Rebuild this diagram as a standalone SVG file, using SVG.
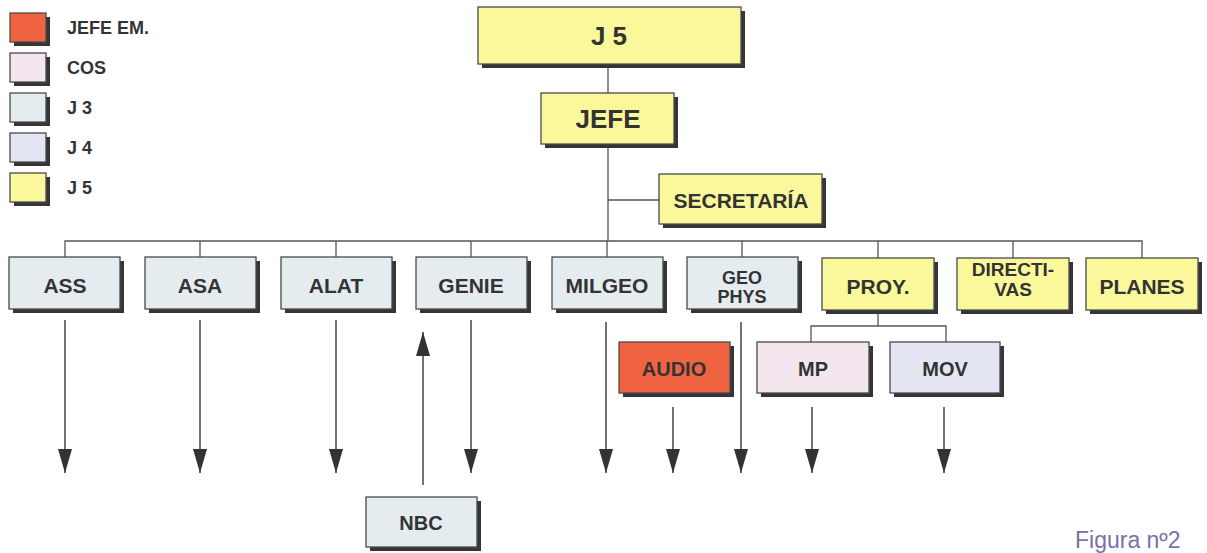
<svg xmlns="http://www.w3.org/2000/svg" width="1207" height="553" viewBox="0 0 1207 553">
  <style>
    .box { stroke: #4a4a4a; stroke-width: 1.3; }
    .sh { fill: #353535; }
    .y { fill: #fbf89c; }
    .j3 { fill: #e5ecf0; }
    .j4 { fill: #e4e6f4; }
    .cos { fill: #f4e6ee; }
    .em { fill: #ef6340; }
    .t { font-family: "Liberation Sans", Arial, sans-serif; font-weight: bold; fill: #333; text-anchor: middle; }
    .lg { font-family: "Liberation Sans", Arial, sans-serif; font-weight: bold; fill: #333; font-size: 18px; }
    .ln { stroke: #555; stroke-width: 1.3; fill: none; }
    .ar { stroke: #444; stroke-width: 1.5; fill: none; }
  </style>
  <defs>
    <marker id="head" markerUnits="userSpaceOnUse" markerWidth="24" markerHeight="14" viewBox="0 0 24 14" refX="24" refY="7" orient="auto">
      <path d="M0,0 L24,7 L0,14 Z" fill="#333"/>
    </marker>
  </defs>
  <rect width="1207" height="553" fill="#ffffff"/>

  <!-- legend -->
  <g id="legend">
    <rect class="sh" x="14" y="17" width="36" height="29"/>
    <rect class="box em" x="10" y="13" width="36" height="29"/>
    <text class="lg" x="67" y="34">JEFE EM.</text>
    <rect class="sh" x="14" y="57" width="36" height="29"/>
    <rect class="box cos" x="10" y="53" width="36" height="29"/>
    <text class="lg" x="67" y="74">COS</text>
    <rect class="sh" x="14" y="97" width="36" height="29"/>
    <rect class="box j3" x="10" y="93" width="36" height="29"/>
    <text class="lg" x="67" y="114">J 3</text>
    <rect class="sh" x="14" y="137" width="36" height="29"/>
    <rect class="box j4" x="10" y="133" width="36" height="29"/>
    <text class="lg" x="67" y="154">J 4</text>
    <rect class="sh" x="14" y="177" width="36" height="29"/>
    <rect class="box y" x="10" y="173" width="36" height="29"/>
    <text class="lg" x="67" y="194">J 5</text>
  </g>

  <!-- connectors -->
  <g id="connectors">
    <path class="ln" d="M608,64 V241"/>
    <path class="ln" d="M608,200 H659"/>
    <path class="ln" d="M65,257 V241 H1142 V258"/>
    <path class="ln" d="M200,241 V257 M336,241 V257 M471,241 V257 M607,241 V257 M742,241 V257 M878,241 V258 M1013,241 V258"/>
    <path class="ln" d="M878,311 V326 M811,342 V326 H946 V342"/>
    <path class="ar" d="M65,320 V473" marker-end="url(#head)"/>
    <path class="ar" d="M200,320 V473" marker-end="url(#head)"/>
    <path class="ar" d="M336,320 V473" marker-end="url(#head)"/>
    <path class="ar" d="M471,320 V473" marker-end="url(#head)"/>
    <path class="ar" d="M423,485 V332" marker-end="url(#head)"/>
    <path class="ar" d="M606,322 V473" marker-end="url(#head)"/>
    <path class="ar" d="M741,322 V473" marker-end="url(#head)"/>
    <path class="ar" d="M673,407 V473" marker-end="url(#head)"/>
    <path class="ar" d="M812,407 V473" marker-end="url(#head)"/>
    <path class="ar" d="M944,407 V473" marker-end="url(#head)"/>
  </g>

  <g id="j5">
    <rect class="sh" x="482" y="11" width="263" height="57"/>
    <rect class="box y" x="478" y="7" width="263" height="57"/>
    <text class="t" x="609" y="45" font-size="26">J 5</text>
  </g>
  <g id="jefe">
    <rect class="sh" x="545" y="97" width="133" height="51"/>
    <rect class="box y" x="541" y="93" width="133" height="51"/>
    <text class="t" x="608" y="128" font-size="26">JEFE</text>
  </g>
  <g id="secretaria">
    <rect class="sh" x="663" y="178" width="163" height="50"/>
    <rect class="box y" x="659" y="174" width="163" height="50"/>
    <text class="t" x="741" y="208" font-size="21">SECRETARÍA</text>
  </g>

  <g id="ass">
    <rect class="sh" x="13" y="261" width="111" height="52"/>
    <rect class="box j3" x="9" y="257" width="111" height="52"/>
    <text class="t" x="65" y="293" font-size="21">ASS</text>
  </g>
  <g id="asa">
    <rect class="sh" x="149" y="261" width="111" height="52"/>
    <rect class="box j3" x="145" y="257" width="111" height="52"/>
    <text class="t" x="200" y="293" font-size="21">ASA</text>
  </g>
  <g id="alat">
    <rect class="sh" x="285" y="261" width="111" height="52"/>
    <rect class="box j3" x="281" y="257" width="111" height="52"/>
    <text class="t" x="336" y="293" font-size="21">ALAT</text>
  </g>
  <g id="genie">
    <rect class="sh" x="420" y="261" width="111" height="52"/>
    <rect class="box j3" x="416" y="257" width="111" height="52"/>
    <text class="t" x="471" y="293" font-size="21">GENIE</text>
  </g>
  <g id="milgeo">
    <rect class="sh" x="556" y="261" width="111" height="52"/>
    <rect class="box j3" x="552" y="257" width="111" height="52"/>
    <text class="t" x="607" y="293" font-size="21">MILGEO</text>
  </g>
  <g id="geophys">
    <rect class="sh" x="691" y="261" width="111" height="52"/>
    <rect class="box j3" x="687" y="257" width="111" height="52"/>
    <text class="t" x="742" y="284" font-size="18">GEO</text>
    <text class="t" x="742" y="303" font-size="18">PHYS</text>
  </g>
  <g id="proy">
    <rect class="sh" x="826" y="262" width="112" height="52"/>
    <rect class="box y" x="822" y="258" width="112" height="52"/>
    <text class="t" x="878" y="294" font-size="21">PROY.</text>
  </g>
  <g id="directivas">
    <rect class="sh" x="961" y="262" width="112" height="52"/>
    <rect class="box y" x="957" y="258" width="112" height="52"/>
    <text class="t" x="1013" y="276" font-size="19">DIRECTI-</text>
    <text class="t" x="1013" y="296" font-size="19">VAS</text>
  </g>
  <g id="planes">
    <rect class="sh" x="1090" y="262" width="112" height="52"/>
    <rect class="box y" x="1086" y="258" width="112" height="52"/>
    <text class="t" x="1142" y="294" font-size="21">PLANES</text>
  </g>

  <g id="audio">
    <rect class="sh" x="623" y="346" width="111" height="51"/>
    <rect class="box em" x="619" y="342" width="111" height="51"/>
    <text class="t" x="674" y="376" font-size="20">AUDIO</text>
  </g>
  <g id="mp">
    <rect class="sh" x="761" y="346" width="112" height="51"/>
    <rect class="box cos" x="757" y="342" width="112" height="51"/>
    <text class="t" x="813" y="376" font-size="20">MP</text>
  </g>
  <g id="mov">
    <rect class="sh" x="894" y="346" width="110" height="51"/>
    <rect class="box j4" x="890" y="342" width="110" height="51"/>
    <text class="t" x="945" y="376" font-size="20">MOV</text>
  </g>
  <g id="nbc">
    <rect class="sh" x="370" y="501" width="111" height="50"/>
    <rect class="box j3" x="366" y="497" width="111" height="50"/>
    <text class="t" x="421" y="530" font-size="20">NBC</text>
  </g>

  <text x="1075" y="548" font-family="'Liberation Sans', Arial, sans-serif" font-size="23" fill="#7a70aa">Figura nº2</text>
</svg>
